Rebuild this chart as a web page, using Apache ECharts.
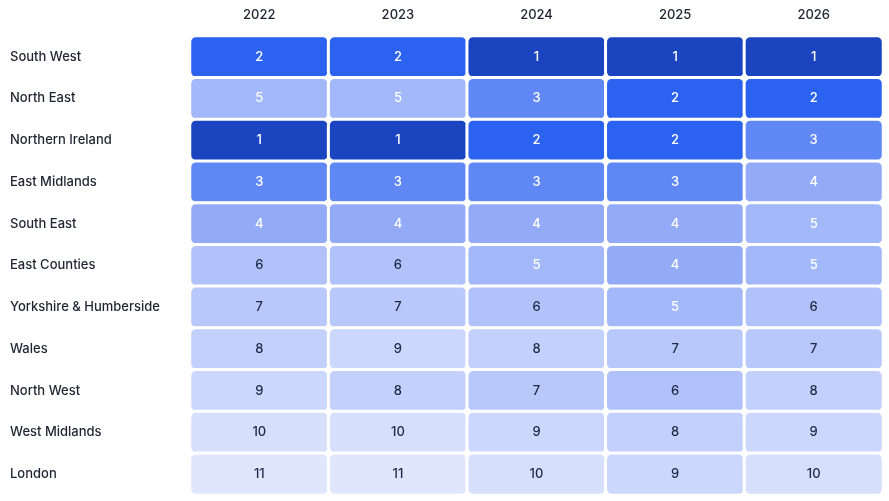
<!DOCTYPE html>
<html><head><meta charset="utf-8">
<script src="https://cdn.jsdelivr.net/npm/echarts@6/dist/echarts.min.js"></script>
<style>html,body{margin:0;background:#fff}#c{width:889px;height:501px}</style>
</head><body><div id="c"></div>
<script>
const years = ['2022', '2023', '2024', '2025', '2026'];
const regions = ['South West', 'North East', 'Northern Ireland', 'East Midlands', 'South East',
  'East Counties', 'Yorkshire & Humberside', 'Wales', 'North West', 'West Midlands', 'London'];
const ranks = [
  [2, 2, 1, 1, 1],
  [5, 5, 3, 2, 2],
  [1, 1, 2, 2, 3],
  [3, 3, 3, 3, 4],
  [4, 4, 4, 4, 5],
  [6, 6, 5, 4, 5],
  [7, 7, 6, 5, 6],
  [8, 9, 8, 7, 7],
  [9, 8, 7, 6, 8],
  [10, 10, 9, 8, 9],
  [11, 11, 10, 9, 10]
];
const rankColors = ['#1a44c0', '#2c62f0', '#6088f4', '#93abf7', '#a2b8f8', '#b0c2f9',
  '#b8c8fa', '#c2d0fb', '#cbd7fc', '#d6e0fd', '#e0e7fd'];

const data = [];
ranks.forEach((row, r) => row.forEach((v, c) => data.push([c, r, v])));

const chart = echarts.init(document.getElementById('c'));
chart.setOption({
  textStyle: { fontFamily: 'Inter' },
  grid: { left: 190, right: 6, top: 36, bottom: 6 },
  xAxis: {
    type: 'category', data: years, position: 'top',
    axisLine: { show: false }, axisTick: { show: false },
    axisLabel: { color: '#1f2430', fontSize: 13, fontWeight: 500, margin: 14 }
  },
  yAxis: {
    type: 'category', data: regions, inverse: true,
    axisLine: { show: false }, axisTick: { show: false },
    axisLabel: { color: '#1f2430', fontSize: 13, fontWeight: 500, align: 'left', margin: 180 }
  },
  visualMap: {
    type: 'piecewise', show: false, dimension: 2,
    pieces: rankColors.map((col, i) => ({ value: i + 1, color: col }))
  },
  series: [{
    type: 'heatmap', data: data,
    itemStyle: { borderColor: '#fff', borderWidth: 3, borderRadius: 6 },
    label: {
      show: true, fontSize: 13, fontWeight: 500,
      formatter: p => p.value[2],
      color: p => '#fff'
    }
  }]
});
// text colour depends on rank
chart.setOption({
  series: [{
    data: data.map(d => ({ value: d, label: { color: d[2] <= 5 ? '#ffffff' : '#1f2a44' } }))
  }]
});
</script></body></html>
